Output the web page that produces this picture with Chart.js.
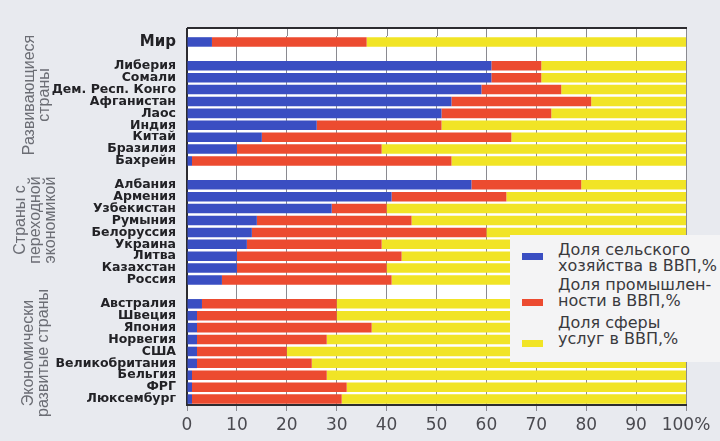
<!DOCTYPE html>
<html>
<head>
<meta charset="utf-8">
<script src="https://cdn.jsdelivr.net/npm/chart.js@4"></script>
<style>
  body { margin: 0; background: #e8eaef; font-family: "Liberation Sans", Arial, sans-serif; }
  #wrap { position: relative; width: 720px; height: 441px; overflow: hidden; }
  .grp { position: absolute; color: #6b6d74; font-size: 16px; line-height: 15px; text-align: center;
         transform: translate(-50%, -50%) rotate(-90deg); white-space: nowrap; }
  #legend { position: absolute; left: 510px; top: 235px; width: 210px; height: 127px; background: #f4f4f5; }
  .item { position: absolute; left: 48px; color: #3a3a3e; font-family: "DejaVu Sans", sans-serif;
          font-size: 16px; line-height: 16px; white-space: nowrap; }
  .sw { position: absolute; left: 12px; width: 21px; height: 7px; }
</style>
</head>
<body>
<div id="wrap">
  <canvas id="gdpChart" width="720" height="441"></canvas>
  <div class="grp" style="left:36px; top:95px;">Развивающиеся<br>страны</div>
  <div class="grp" style="left:34px; top:220px;">Страны с<br>переходной<br>экономикой</div>
  <div class="grp" style="left:35px; top:353px;">Экономически<br>развитые страны</div>
  <div id="legend">
    <div class="sw" style="top:18px; background:#3a4ec2"></div>
    <div class="sw" style="top:64px; background:#ec4b30"></div>
    <div class="sw" style="top:105px; background:#f1e426"></div>
    <div class="item" style="top:7px;">Доля сельского<br>хозяйства в ВВП,%</div>
    <div class="item" style="top:42px;">Доля промышлен-<br>ности в ВВП,%</div>
    <div class="item" style="top:80px;">Доля сферы<br>услуг в ВВП,%</div>
  </div>
</div>
<script>
// categories (empty strings are the gaps between groups)
const countries = [
  "Мир", "",
  "Либерия", "Сомали", "Дем. Респ. Конго", "Афганистан", "Лаос", "Индия", "Китай", "Бразилия", "Бахрейн", "",
  "Албания", "Армения", "Узбекистан", "Румыния", "Белоруссия", "Украина", "Литва", "Казахстан", "Россия", "",
  "Австралия", "Швеция", "Япония", "Норвегия", "США", "Великобритания", "Бельгия", "ФРГ", "Люксембург"
];

// shares of GDP, %
const agriculture = [
  5, null,
  61, 61, 59, 53, 51, 26, 15, 10, 1, null,
  57, 41, 29, 14, 13, 12, 10, 10, 7, null,
  3, 2, 2, 2, 2, 2, 1, 1, 1
];
const industry = [
  31, null,
  10, 10, 16, 28, 22, 25, 50, 29, 52, null,
  22, 23, 11, 31, 47, 27, 33, 30, 34, null,
  27, 28, 35, 26, 18, 23, 27, 31, 30
];
const services = [
  64, null,
  29, 29, 25, 19, 27, 49, 35, 61, 47, null,
  21, 36, 60, 55, 40, 61, 57, 60, 59, null,
  70, 70, 63, 72, 80, 75, 72, 68, 69
];

const xTicks = ["0", "10", "20", "30", "40", "50", "60", "70", "80", "90", "100%"];

// frame top sits above the first row
const frameTop = 28;

const plotBg = {
  id: "plotBg",
  beforeDraw(chart) {
    const { ctx, chartArea: a } = chart;
    ctx.save();
    ctx.fillStyle = "#ffffff";
    ctx.fillRect(a.left, frameTop, a.right - a.left, a.bottom - frameTop);
    // carry the grid lines up to the frame
    const x = chart.scales.x;
    ctx.strokeStyle = "#8a8a90";
    ctx.lineWidth = 1;
    x.ticks.forEach((t) => {
      const px = Math.round(x.getPixelForValue(t.value)) + 0.5;
      ctx.beginPath();
      ctx.moveTo(px, frameTop);
      ctx.lineTo(px, a.top);
      ctx.stroke();
    });
    ctx.restore();
  },
  afterDraw(chart) {
    const { ctx, chartArea: a } = chart;
    ctx.save();
    ctx.strokeStyle = "#2c2c30";
    ctx.lineWidth = 2;
    ctx.beginPath();
    ctx.moveTo(a.left, frameTop);
    ctx.lineTo(a.right + 1, frameTop);
    ctx.moveTo(a.left, frameTop);
    ctx.lineTo(a.left, a.top);
    ctx.stroke();
    ctx.restore();
  }
};

const ctx = document.getElementById("gdpChart").getContext("2d");
new Chart(ctx, {
  type: "bar",
  data: {
    labels: countries,
    datasets: [
      { label: "Доля сельского хозяйства в ВВП,%", data: agriculture, backgroundColor: "#3a4ec2" },
      { label: "Доля промышленности в ВВП,%", data: industry, backgroundColor: "#ec4b30" },
      { label: "Доля сферы услуг в ВВП,%", data: services, backgroundColor: "#f1e426" },
    ],
  },
  plugins: [plotBg],
  options: {
    indexAxis: "y",
    responsive: false,
    animation: false,
    barPercentage: 0.8,
    categoryPercentage: 1,
    layout: { padding: { top: 36, right: 34, left: 0, bottom: 0 } },
    plugins: { legend: { display: false }, tooltip: { enabled: false } },
    scales: {
      x: {
        stacked: true,
        min: 0,
        max: 100,
        afterFit(scale) { scale.height = 36; },
        ticks: {
          stepSize: 10,
          autoSkip: false,
          maxRotation: 0,
          minRotation: 0,
          color: "#4a4a50",
          font: { size: 17, family: "DejaVu Sans" },
          padding: 4,
          callback: (v, i) => xTicks[i],
        },
        grid: { color: "#8a8a90", lineWidth: 1, drawTicks: true, tickLength: 6 },
        border: { color: "#2c2c30", width: 2 },
      },
      y: {
        stacked: true,
        afterFit(scale) { scale.width = 187; },
        ticks: {
          autoSkip: false,
          color: "#222226",
          padding: 11,
          font: (c) => c.index === 0
            ? { size: 15, weight: "bold", family: "DejaVu Sans" }
            : { size: 12.5, weight: "bold", family: "DejaVu Sans" },
        },
        grid: { display: false, drawTicks: false },
        border: { color: "#2c2c30", width: 2 },
      },
    },
  },
});
</script>
</body>
</html>
